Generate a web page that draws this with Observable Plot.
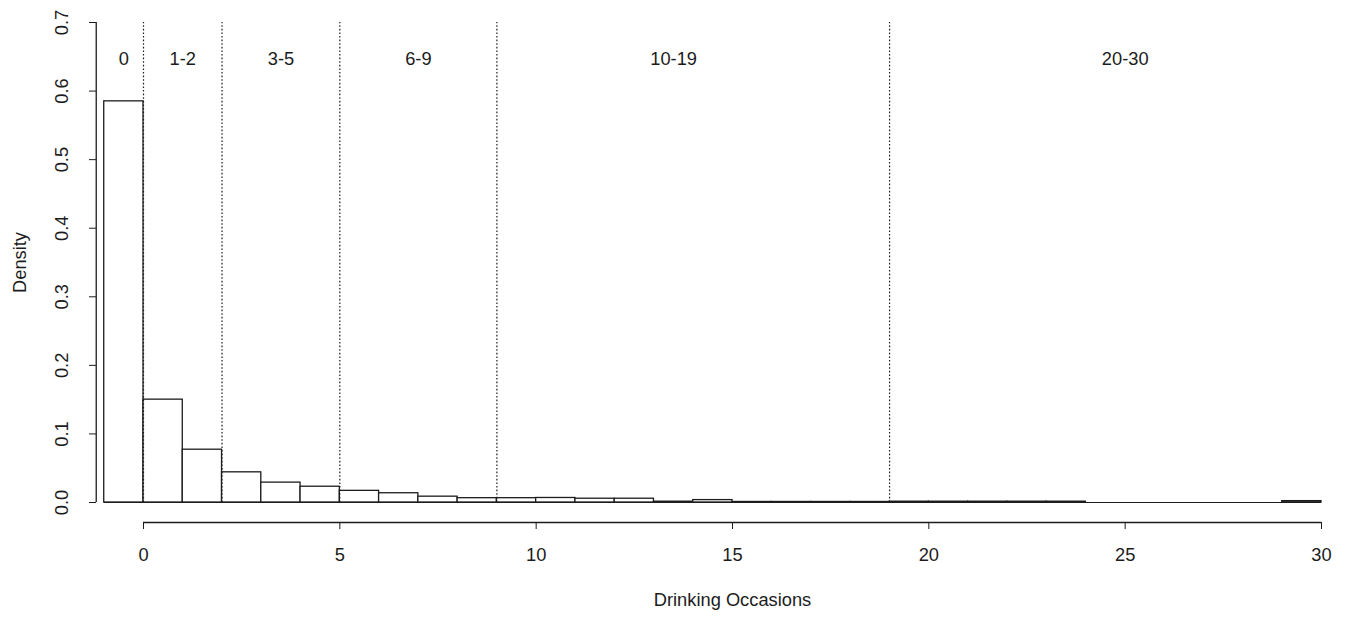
<!DOCTYPE html>
<html>
<head>
<meta charset="utf-8">
<script src="https://cdn.jsdelivr.net/npm/d3@7"></script>
<script src="https://cdn.jsdelivr.net/npm/@observablehq/plot@0.6"></script>
<style>
  html, body { margin: 0; padding: 0; background: #fff; }
  svg { display: block; }
</style>
</head>
<body>
<div id="chart"></div>
<script>
// Histogram bins (left edges, width 1) and densities
const binStart = [-1, 0, 1, 2, 3, 4, 5, 6, 7, 8, 9, 10, 11, 12, 13, 14, 15, 16, 17, 18, 19, 20, 21, 22, 23, 24, 25, 26, 27, 28, 29];
const binEnd   = [ 0, 1, 2, 3, 4, 5, 6, 7, 8, 9, 10, 11, 12, 13, 14, 15, 16, 17, 18, 19, 20, 21, 22, 23, 24, 25, 26, 27, 28, 29, 30];
const density  = [0.585, 0.150, 0.077, 0.044, 0.029, 0.023, 0.017, 0.0135, 0.0085, 0.0063,
                  0.0063, 0.0066, 0.0055, 0.0055, 0.0012, 0.0035, 0.0008, 0.0008, 0.0008, 0.0008,
                  0.0012, 0.0012, 0.0012, 0.0012, 0.0012, 0, 0, 0, 0, 0, 0.002];

// Category cut points and labels
const cutPoints = [0, 2, 5, 9, 19];
const catLabels = ["0", "1-2", "3-5", "6-9", "10-19", "20-30"];
const catPos    = [-0.5, 1, 3.5, 7, 13.5, 25];
const catLabelY = 0.647;

// Axes
const xTicks = [0, 5, 10, 15, 20, 25, 30];
const yTicks = [0, 0.1, 0.2, 0.3, 0.4, 0.5, 0.6, 0.7];
const xDomain = [0, 30];
const yDomain = [0, 0.7];
const xTitle = "Drinking Occasions";
const yTitle = "Density";

const bins = binStart.map((s, i) => ({x1: s, x2: binEnd[i], density: density[i]}));
const cats = catLabels.map((t, i) => ({label: t, x: catPos[i], y: catLabelY}));

const ink = "#1c1c1c";
const font = "Liberation Sans, Arial, sans-serif";
const fs = 18.3;

const chart = Plot.plot({
  width: 1353,
  height: 618,
  marginLeft: 96,
  marginRight: 32,
  marginTop: 22,
  marginBottom: 96,
  style: {fontFamily: font, fontSize: fs + "px", color: ink, background: "#fff"},
  x: {domain: xDomain, range: [143, 1321], axis: null},
  y: {domain: yDomain, range: [502, 22], axis: null},
  marks: [
    // bars
    Plot.rectY(bins, {x1: "x1", x2: "x2", y: "density", fill: "white", stroke: ink, strokeWidth: 1.3}),
    // baseline under the bins (zero-height bins show as a line)
    Plot.ruleY([yDomain[0]], {x1: binStart[0], x2: binEnd[binEnd.length - 1], stroke: ink, strokeWidth: 1}),
    // dotted category separators
    Plot.ruleX(cutPoints, {y1: yDomain[0], y2: yDomain[1], stroke: ink, strokeWidth: 1.2, strokeDasharray: "1.6,2"}),
    // category labels
    Plot.text(cats, {x: "x", y: "y", text: "label", fill: ink, fontSize: fs, lineAnchor: "middle"}),
    // x axis (offset below the bars, R style)
    Plot.ruleY([yDomain[0]], {x1: xTicks[0], x2: xTicks[xTicks.length - 1], dy: 20, stroke: ink, strokeWidth: 1.3}),
    Plot.axisX(xTicks, {anchor: "bottom", tickSize: 7, tickPadding: 18, stroke: ink, fill: ink, fontSize: fs, label: null, tickFormat: d => String(d)}),
    // y axis
    Plot.ruleX([binStart[0]], {y1: yDomain[0], y2: yDomain[1], dx: -8, stroke: ink, strokeWidth: 1.3}),
    Plot.axisY(yTicks, {anchor: "left", tickSize: 7, stroke: ink, label: null, tickFormat: () => ""}),
    Plot.text(yTicks, {y: d => d, text: d => d.toFixed(1), frameAnchor: "left", dx: -34, rotate: -90,
      textAnchor: "middle", lineAnchor: "middle", fill: ink, fontSize: fs}),
    // axis titles
    Plot.text([yTitle], {y: (yDomain[0] + yDomain[1]) / 2, frameAnchor: "left", dx: -76, rotate: -90,
      textAnchor: "middle", lineAnchor: "middle", fill: ink, fontSize: fs}),
    Plot.text([xTitle], {x: (xDomain[0] + xDomain[1]) / 2, frameAnchor: "bottom", dy: 78,
      textAnchor: "middle", lineAnchor: "middle", fill: ink, fontSize: fs})
  ]
});
document.getElementById("chart").appendChild(chart);
</script>
</body>
</html>
